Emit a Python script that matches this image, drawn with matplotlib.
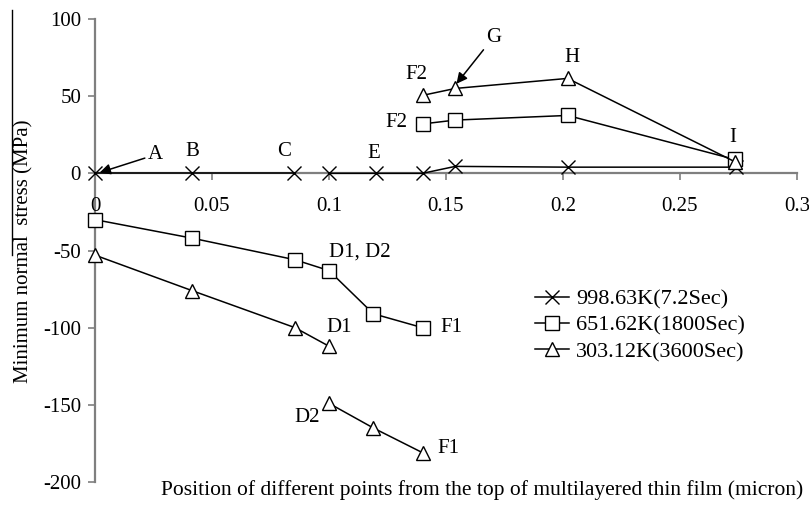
import numpy as np
import matplotlib
matplotlib.use("Agg")
import matplotlib.pyplot as plt
from matplotlib.lines import Line2D

# -------------------------
# Data
# -------------------------
# 998.63K (7.2 Sec) - two segments
x_998_a = [0, 0.0415, 0.085]
y_998_a = [0, 0, 0]
x_998_b = [0.1, 0.12, 0.14, 0.154, 0.202, 0.274]
y_998_b = [0, 0, 0, 4.5, 4, 4]

# 651.62K (1800 Sec)
x_651_a = [0, 0.0415, 0.0855, 0.1, 0.119, 0.14]
y_651_a = [-30, -42, -56, -63, -91, -100]
x_651_b = [0.14, 0.154, 0.202, 0.2735]
y_651_b = [32, 34.5, 37.5, 9]

# 303.12K (3600 Sec)
x_303_a = [0, 0.0415, 0.0855, 0.1]
y_303_a = [-53, -76, -100, -112]
x_303_b = [0.1, 0.119, 0.14]
y_303_b = [-149, -165, -181]
x_303_c = [0.14, 0.154, 0.202, 0.2735]
y_303_c = [50.5, 55, 61.5, 7.5]

legend_labels = ["998.63K(7.2Sec)", "651.62K(1800Sec)", "303.12K(3600Sec)"]
x_ticks = [0, 0.05, 0.1, 0.15, 0.2, 0.25, 0.3]
x_tick_labels = ["0", "0.05", "0.1", "0.15", "0.2", "0.25", "0.3"]
y_ticks = [-200, -150, -100, -50, 0, 50, 100]

plt.rcParams["font.family"] = ["Liberation Serif", "DejaVu Serif"]
plt.rcParams["font.size"] = 15
plt.rcParams["axes.unicode_minus"] = False

axis_grey = "#7f7f7f"

fig = plt.figure(figsize=(8.09, 5.09), dpi=100)
ax = fig.add_axes([0.1174, 0.053, 0.985 - 0.1174, 0.9627 - 0.053])

mk = dict(color="black", linewidth=1.1, markerfacecolor="white",
          markeredgecolor="black", markeredgewidth=1.0, markersize=10)

ax.plot(x_998_a, y_998_a, marker="x", clip_on=False, **mk)
ax.plot(x_998_b, y_998_b, marker="x", clip_on=False, **mk)
ax.plot(x_651_a, y_651_a, marker="s", clip_on=False, **mk)
ax.plot(x_651_b, y_651_b, marker="s", clip_on=False, **mk)
ax.plot(x_303_a, y_303_a, marker="^", clip_on=False, **mk)
ax.plot(x_303_b, y_303_b, marker="^", clip_on=False, **mk)
ax.plot(x_303_c, y_303_c, marker="^", clip_on=False, **mk)

ax.set_xlim(0, 0.3)
ax.set_ylim(-200, 100)

# axes styling: y spine on the left, x spine through zero
ax.spines["top"].set_visible(False)
ax.spines["right"].set_visible(False)
ax.spines["bottom"].set_position(("data", 0))
for s in ["left", "bottom"]:
    ax.spines[s].set_color(axis_grey)
    ax.spines[s].set_linewidth(1.6)
    ax.spines[s].set_zorder(0.5)

ax.set_xticks(x_ticks)
ax.set_xticklabels(x_tick_labels)
ax.set_yticks(y_ticks)
ax.tick_params(axis="both", direction="out", color=axis_grey, width=1.2,
               length=5, labelcolor="black")
ax.tick_params(axis="x", pad=12)
ax.tick_params(axis="y", pad=5)

# point labels
ax.text(0.0415, 8, "B", ha="center", va="bottom")
ax.text(0.081, 8, "C", ha="center", va="bottom")
ax.text(0.119, 7, "E", ha="center", va="bottom")
ax.text(0.1375, 58, "F2", ha="center", va="bottom")
ax.text(0.1335, 33, "F2", ha="right", va="center")
ax.text(0.204, 69, "H", ha="center", va="bottom")
ax.text(0.2725, 17, "I", ha="center", va="bottom")
ax.text(0.1, -51, "D1, D2", ha="left", va="center")
ax.text(0.099, -100, "D1", ha="left", va="center")
ax.text(0.1475, -100, "F1", ha="left", va="center")
ax.text(0.096, -158, "D2", ha="right", va="center")
ax.text(0.1465, -178, "F1", ha="left", va="center")

arrow = dict(arrowstyle="-|>", color="black", lw=1.1, mutation_scale=16,
             shrinkA=0, shrinkB=0)
ax.annotate("A", xy=(0.002, 0.5), xytext=(0.0225, 12), ha="left", va="center",
            arrowprops=arrow)
ax.annotate("G", xy=(0.1545, 58), xytext=(0.167, 88), ha="left", va="center",
            arrowprops=arrow)

# legend
handles = [
    Line2D([], [], marker="x", **mk),
    Line2D([], [], marker="s", **mk),
    Line2D([], [], marker="^", **mk),
]
ax.legend(handles, legend_labels, loc="upper left",
          bbox_to_anchor=(0.605, 0.45), frameon=False, fontsize=16,
          handlelength=1.5, handletextpad=0.35, labelspacing=0.25,
          borderpad=0.2)

# axis titles
fig.text(0.029, 0.507, "Minimum normal  stress (MPa)", rotation=90,
         ha="center", va="center")
fig.text(0.596, 0.037, "Position of different points from the top of multilayered thin film (micron)",
         ha="center", va="center", fontsize=15.5)

# stray vertical rule at the left edge of the original figure
fig.add_artist(Line2D([0.015, 0.015], [0.98, 0.5], color="black", lw=1.0))

fig.savefig("out.png", dpi=100)
